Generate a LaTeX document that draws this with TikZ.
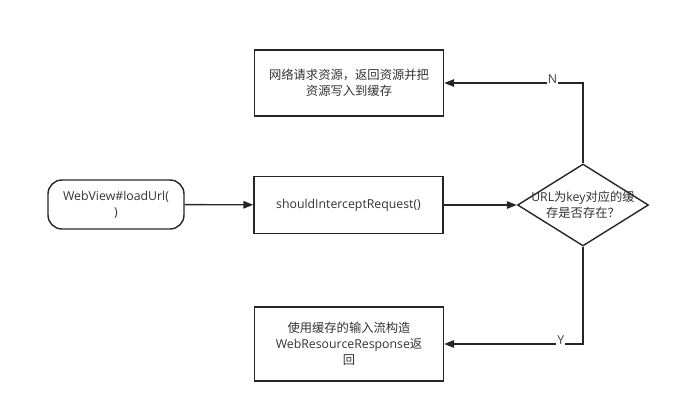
\documentclass[tikz,border=0pt]{standalone}
\usepackage{fontspec}
\setmainfont{Open Sans}
\newfontfamily\cjk{Noto Sans CJK SC}
\usetikzlibrary{shapes.geometric,arrows.meta}

\begin{document}
\begin{tikzpicture}[x=1pt,y=-1pt]
                    \tikzset{every node/.style={font=\fontsize{12.3}{16}\selectfont, text=black!80, align=center}}
                    \tikzset{procbox/.style={draw=black!85, line width=1.4pt, minimum width=189pt, inner sep=2pt}}
                    \tikzset{startbox/.style={draw=black!85, line width=1.4pt, rounded corners=14pt, minimum width=136pt, minimum height=49pt, inner sep=2pt}}
                    \tikzset{askbox/.style={draw=black!85, line width=1.4pt, diamond, aspect=1.6, minimum width=131pt, minimum height=82pt, inner sep=0pt}}
                    \tikzset{flow/.style={draw=black!85, line width=1.4pt, -{Triangle[length=10pt,width=7.5pt]}}}
                    \tikzset{yesno/.style={fill=white, inner sep=1pt, text=black!75}}
                    \useasboundingbox (0,0) rectangle (681,413);
                    % nodes
                    \node[startbox] (load) at (116,204.5) {WebView\#loadUrl(\\)};
                    \node[procbox, minimum height=57pt] (hook) at (348.5,205) {shouldInterceptRequest()};
                    \node[askbox] (hit) at (583,205) {\makebox[0pt]{URL{\cjk 为}key{\cjk 对应的缓}}\\\makebox[0pt]{\cjk 存是否存在？}};
                    \node[procbox, minimum height=66pt] (fetch) at (349,83) {{\cjk 网络请求资源，返回资源并把}\\{\cjk 资源写入到缓存}};
                    \node[procbox, minimum height=74pt] (reuse) at (349,344) {{\cjk 使用缓存的输入流构造}\\WebResourceResponse{\cjk 返}\\{\cjk 回}};
                    % connectors
                    \draw[flow] (load) -- (hook);
                    \draw[flow] (hook) -- (hit);
                    \draw[flow] (hit.north) |- node[yesno, pos=0.61, yshift=4pt] {N} (fetch.east);
                    \draw[flow] (hit.south) |- node[yesno, pos=0.58, yshift=4pt] {Y} (reuse.east);
\end{tikzpicture}
\end{document}
